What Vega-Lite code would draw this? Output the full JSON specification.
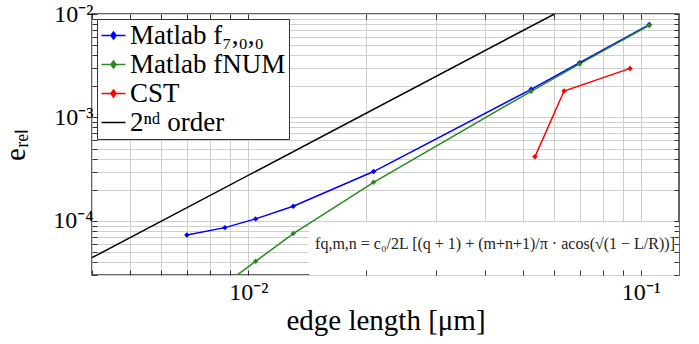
{
  "$schema": "https://vega.github.io/schema/vega-lite/v6.json",
  "width": 587,
  "height": 261,
  "autosize": {"type": "none"},
  "padding": {"left": 92, "top": 14, "right": 20, "bottom": 69},
  "config": {
    "font": "'Liberation Serif', 'Times New Roman', serif",
    "view": {"stroke": "#333333", "strokeWidth": 1.5},
    "axis": {
      "domain": false,
      "tickColor": "#333333",
      "tickSize": -5,
      "tickWidth": 1,
      "gridColor": "#cfcfcf",
      "gridWidth": 1,
      "labelColor": "black",
      "titleColor": "black",
      "labelFont": "'Liberation Serif', 'Times New Roman', serif",
      "titleFont": "'Liberation Serif', 'Times New Roman', serif",
      "labelFontSize": 24,
      "titleFontSize": 29,
      "titleFontWeight": "normal",
      "labelOverlap": false,
      "labelBound": false,
      "labelFlush": false
    },
    "legend": {
      "orient": "top-left",
      "offset": 5,
      "labelFont": "'Liberation Serif', 'Times New Roman', serif",
      "labelFontSize": 27,
      "labelColor": "black",
      "symbolSize": 576,
      "symbolStrokeWidth": 1.5,
      "symbolType": "M-1,0H1M0,-0.3L0.22,0L0,0.3L-0.22,0Z",
      "fillColor": "white",
      "strokeColor": "#333333",
      "padding": 3,
      "rowPadding": 1,
      "labelOffset": 3,
      "labelLimit": 400
    }
  },
  "datasets": {
    "series": [
      {"series": "Matlab f₇,₀,₀", "x": 0.00698, "y": 0.0000732},
      {"series": "Matlab f₇,₀,₀", "x": 0.00872, "y": 0.0000861},
      {"series": "Matlab f₇,₀,₀", "x": 0.01044, "y": 0.0001046},
      {"series": "Matlab f₇,₀,₀", "x": 0.01302, "y": 0.0001384},
      {"series": "Matlab f₇,₀,₀", "x": 0.02085, "y": 0.000300},
      {"series": "Matlab f₇,₀,₀", "x": 0.0525, "y": 0.00187},
      {"series": "Matlab f₇,₀,₀", "x": 0.0698, "y": 0.00338},
      {"series": "Matlab f₇,₀,₀", "x": 0.105, "y": 0.0079},
      {"series": "Matlab fNUM", "x": 0.00698, "y": 0.000012},
      {"series": "Matlab fNUM", "x": 0.00872, "y": 0.0000245},
      {"series": "Matlab fNUM", "x": 0.01044, "y": 0.0000407},
      {"series": "Matlab fNUM", "x": 0.01302, "y": 0.0000754},
      {"series": "Matlab fNUM", "x": 0.02085, "y": 0.000236},
      {"series": "Matlab fNUM", "x": 0.0525, "y": 0.00179},
      {"series": "Matlab fNUM", "x": 0.0698, "y": 0.00329},
      {"series": "Matlab fNUM", "x": 0.105, "y": 0.00775},
      {"series": "CST", "x": 0.0537, "y": 0.000416},
      {"series": "CST", "x": 0.0637, "y": 0.0018},
      {"series": "CST", "x": 0.0938, "y": 0.00298},
      {"series": "2ⁿᵈ order", "x": 0.004, "y": 0.0000441},
      {"series": "2ⁿᵈ order", "x": 0.0602, "y": 0.01}
    ],
    "note": [
      {"x0": 0.0143, "x1": 0.125, "y0": 0.00003, "y1": 0.000097, "tx": 0.0425, "ty": 0.0000595, "text": "fq,m,n = c₀/2L [(q + 1) + (m+n+1)/π · acos(√(1 − L/R))]"}
    ]
  },
  "layer": [
    {
      "data": {"name": "note"},
      "mark": {"type": "rect", "fill": "white", "strokeWidth": 0},
      "encoding": {
        "x": {
          "field": "x0", "type": "quantitative",
          "scale": {"type": "log", "domain": [0.004, 0.125], "nice": false},
          "axis": {
            "orient": "top", "grid": true, "labels": false, "title": null, "zindex": 0,
            "values": [0.004, 0.005, 0.006, 0.007, 0.008, 0.009, 0.01, 0.02, 0.03, 0.04, 0.05, 0.06, 0.07, 0.08, 0.09, 0.1]
          }
        },
        "x2": {"field": "x1"},
        "y": {
          "field": "y0", "type": "quantitative",
          "scale": {"type": "log", "domain": [0.00003, 0.01], "nice": false},
          "axis": {
            "orient": "left", "grid": true, "title": "eᵣₑₗ", "zindex": 0, "titlePadding": 22, "labelPadding": 4,
            "values": [0.00003, 0.00004, 0.00005, 0.00006, 0.00007, 0.00008, 0.00009, 0.0001, 0.0002, 0.0003, 0.0004, 0.0005, 0.0006, 0.0007, 0.0008, 0.0009, 0.001, 0.002, 0.003, 0.004, 0.005, 0.006, 0.007, 0.008, 0.009, 0.01],
            "labelExpr": "datum.value == 0.01 ? '10⁻²' : datum.value == 0.001 ? '10⁻³' : datum.value == 0.0001 ? '10⁻⁴' : ''"
          }
        },
        "y2": {"field": "y1"}
      }
    },
    {
      "data": {"name": "series"},
      "mark": {"type": "line", "clip": true, "strokeWidth": 1.5},
      "encoding": {
        "x": {
          "field": "x", "type": "quantitative",
          "scale": {"type": "log", "domain": [0.004, 0.125], "nice": false},
          "axis": {
            "orient": "bottom", "grid": false, "title": "edge length [μm]", "zindex": 1, "labelPadding": 10, "titlePadding": 2,
            "values": [0.004, 0.005, 0.006, 0.007, 0.008, 0.009, 0.01, 0.02, 0.03, 0.04, 0.05, 0.06, 0.07, 0.08, 0.09, 0.1],
            "labelExpr": "datum.value == 0.01 ? '10⁻²' : datum.value == 0.1 ? '10⁻¹' : ''"
          }
        },
        "y": {
          "field": "y", "type": "quantitative",
          "scale": {"type": "log", "domain": [0.00003, 0.01], "nice": false},
          "axis": {
            "orient": "right", "grid": false, "labels": false, "title": null, "zindex": 1,
            "values": [0.00003, 0.00004, 0.00005, 0.00006, 0.00007, 0.00008, 0.00009, 0.0001, 0.0002, 0.0003, 0.0004, 0.0005, 0.0006, 0.0007, 0.0008, 0.0009, 0.001, 0.002, 0.003, 0.004, 0.005, 0.006, 0.007, 0.008, 0.009, 0.01]
          }
        },
        "color": {
          "field": "series", "type": "nominal",
          "scale": {"domain": ["Matlab f₇,₀,₀", "Matlab fNUM", "CST", "2ⁿᵈ order"], "range": ["#0000ff", "#2a8a1e", "#ff0000", "#000000"]},
          "legend": {
            "title": null,
            "encode": {
              "symbols": {
                "update": {
                  "shape": {"signal": "datum.value === '2ⁿᵈ order' ? 'M-1,0H1' : 'M-1,0H1M0,-0.3L0.22,0L0,0.3L-0.22,0Z'"},
                  "fill": {"signal": "scale('color', datum.value)"}
                }
              }
            }
          }
        }
      }
    },
    {
      "data": {"name": "series"},
      "transform": [{"filter": "datum.series !== '2ⁿᵈ order'"}],
      "mark": {"type": "point", "shape": "diamond", "filled": true, "size": 30, "opacity": 1, "clip": true},
      "encoding": {
        "x": {"field": "x", "type": "quantitative", "axis": null},
        "y": {"field": "y", "type": "quantitative", "axis": null},
        "color": {"field": "series", "type": "nominal", "legend": null}
      }
    },
    {
      "data": {"name": "note"},
      "mark": {"type": "text", "font": "'Liberation Serif', 'Times New Roman', serif", "fontSize": 16, "color": "#222222", "align": "center", "baseline": "middle"},
      "encoding": {
        "x": {"field": "tx", "type": "quantitative", "axis": null},
        "y": {"field": "ty", "type": "quantitative", "axis": null},
        "text": {"field": "text"}
      }
    }
  ]
}
